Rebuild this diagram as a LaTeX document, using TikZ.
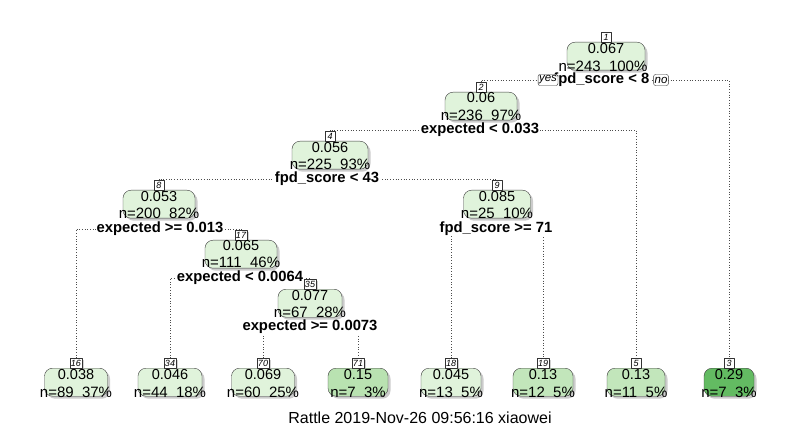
\documentclass[tikz,border=0pt]{standalone}
\usepackage{fontspec}
\setmainfont{Liberation Sans}
\usetikzlibrary{shadows,backgrounds}

\definecolor{lite}{HTML}{E0F3DB}
\definecolor{mid}{HTML}{C2E6BB}
\definecolor{midd}{HTML}{B9E2B1}
\definecolor{dark}{HTML}{63BB62}

\begin{document}
\begin{tikzpicture}[x=1pt,y=-1pt,line cap=round,line join=round,
	box/.style={draw=black!75, rounded corners=8pt, minimum height=28pt, inner sep=0pt, anchor=north,
		drop shadow={shadow xshift=2.5pt,shadow yshift=-2.5pt,fill=black!40}},
	val/.style={inner sep=0pt, font=\fontsize{14.5}{14.5}\selectfont},
	cnt/.style={inner sep=0pt, font=\fontsize{15}{15}\selectfont},
	tag/.style={draw=black!80, fill=white, inner sep=1pt, minimum height=9.5pt, minimum width=9.5pt,
		font=\fontsize{9}{9}\selectfont\itshape,
		drop shadow={shadow xshift=1.5pt,shadow yshift=-1.5pt,fill=black!35}},
	split/.style={fill=white, inner sep=0.5pt, font=\fontsize{14.8}{14.8}\selectfont\bfseries},
	yn/.style={draw=black!80, fill=white, rounded corners=2pt, inner sep=1pt, minimum height=11pt,
		font=\fontsize{11.5}{11.5}\selectfont\itshape},
	branch/.style={dotted, line width=0.7pt, black!70}]
\useasboundingbox (0,0) rectangle (800,430);
			% noeuds internes
			\node[box, fill=lite, minimum width=78pt] (b1) at (606,42) {};
			\node[tag] (t1) at (606,37) {1};
			\node[val] (v1) at (606,49) {0.067};
			\node[cnt] (c1) at (603,66) {n=243\ \ 100\%};
			\node[box, fill=lite, minimum width=72pt] (b2) at (481,92) {};
			\node[tag] (t2) at (481,87) {2};
			\node[val] (v2) at (481,98) {0.06};
			\node[cnt] (c2) at (481,115) {n=236\ \ 97\%};
			\node[box, fill=lite, minimum width=76pt] (b4) at (330,141) {};
			\node[tag] (t4) at (330,136) {4};
			\node[val] (v4) at (330,148) {0.056};
			\node[cnt] (c4) at (330,164) {n=225\ \ 93\%};
			\node[box, fill=lite, minimum width=72pt] (b8) at (159,190) {};
			\node[tag] (t8) at (159,185) {8};
			\node[val] (v8) at (159,197) {0.053};
			\node[cnt] (c8) at (159,213) {n=200\ \ 82\%};
			\node[box, fill=lite, minimum width=67pt] (b9) at (497,190) {};
			\node[tag] (t9) at (497,185) {9};
			\node[val] (v9) at (497,197) {0.085};
			\node[cnt] (c9) at (497,213) {n=25\ \ 10\%};
			\node[box, fill=lite, minimum width=72pt] (b17) at (241,240) {};
			\node[tag] (t17) at (241,235) {17};
			\node[val] (v17) at (241,246) {0.065};
			\node[cnt] (c17) at (241,262) {n=111\ \ 46\%};
			\node[box, fill=lite, minimum width=64pt] (b35) at (310,289) {};
			\node[tag] (t35) at (310,284) {35};
			\node[val] (v35) at (310,296) {0.077};
			\node[cnt] (c35) at (310,312) {n=67\ \ 28\%};
			% feuilles
			\node[box, fill=lite, minimum width=63pt] (b16) at (76,368) {};
			\node[tag] (t16) at (76,363) {16};
			\node[val] (v16) at (76,375) {0.038};
			\node[cnt] (c16) at (76,392) {n=89\ \ 37\%};
			\node[box, fill=lite, minimum width=64pt] (b34) at (170,368) {};
			\node[tag] (t34) at (170,363) {34};
			\node[val] (v34) at (170,375) {0.046};
			\node[cnt] (c34) at (170,392) {n=44\ \ 18\%};
			\node[box, fill=lite, minimum width=63pt] (b70) at (263,368) {};
			\node[tag] (t70) at (263,363) {70};
			\node[val] (v70) at (263,375) {0.069};
			\node[cnt] (c70) at (263,392) {n=60\ \ 25\%};
			\node[box, fill=midd, minimum width=60pt] (b71) at (358,368) {};
			\node[tag] (t71) at (358,363) {71};
			\node[val] (v71) at (358,375) {0.15};
			\node[cnt] (c71) at (358,392) {n=7\ \ 3\%};
			\node[box, fill=lite, minimum width=60pt] (b18) at (451,368) {};
			\node[tag] (t18) at (451,363) {18};
			\node[val] (v18) at (451,375) {0.045};
			\node[cnt] (c18) at (451,392) {n=13\ \ 5\%};
			\node[box, fill=mid, minimum width=60pt] (b19) at (543,368) {};
			\node[tag] (t19) at (543,363) {19};
			\node[val] (v19) at (543,375) {0.13};
			\node[cnt] (c19) at (543,392) {n=12\ \ 5\%};
			\node[box, fill=mid, minimum width=58pt] (b5) at (636,368) {};
			\node[tag] (t5) at (636,363) {5};
			\node[val] (v5) at (636,375) {0.13};
			\node[cnt] (c5) at (636,392) {n=11\ \ 5\%};
			\node[box, fill=dark, minimum width=50pt] (b3) at (729,368) {};
			\node[tag] (t3) at (729,363) {3};
			\node[val] (v3) at (729,375) {0.29};
			\node[cnt] (c3) at (729,392) {n=7\ \ 3\%};
			% conditions
			\node[split, anchor=east] (s1) at (650,80) {fpd\_score < 8};
			\node[split] (s2) at (480,130) {expected < 0.033};
			\node[split] (s4) at (327,179) {fpd\_score < 43};
			\node[split] (s8) at (160,229) {expected >= 0.013};
			\node[split] (s9) at (496,229) {fpd\_score >= 71};
			\node[split] (s17) at (240,278) {expected < 0.0064};
			\node[split] (s35) at (310,327) {expected >= 0.0073};
			\node[yn] (yes) at (548,80) {yes};
			\node[yn] (no) at (661,80) {no};
			% branches
			\begin{scope}[on background layer]
			\draw[branch] (t2.north) -- (t2.north |- s1) -- (t3.north |- s1) -- (t3.north);
			\draw[branch] (t4.north) -- (t4.north |- s2) -- (t5.north |- s2) -- (t5.north);
			\draw[branch] (t8.north) -- (t8.north |- s4) -- (t9.north |- s4) -- (t9.north);
			\draw[branch] (t16.north) -- (t16.north |- s8) -- (t17.north |- s8) -- (t17.north);
			\draw[branch] (t18.north) -- (t18.north |- s9) -- (t19.north |- s9) -- (t19.north);
			\draw[branch] (t34.north) -- (t34.north |- s17) -- (t35.north |- s17) -- (t35.north);
			\draw[branch] (t70.north) -- (t70.north |- s35) -- (t71.north |- s35) -- (t71.north);
			\end{scope}
			\node[font=\fontsize{16}{16}\selectfont] (cap) at (420,418) {Rattle 2019-Nov-26 09:56:16 xiaowei};
\end{tikzpicture}
\end{document}
